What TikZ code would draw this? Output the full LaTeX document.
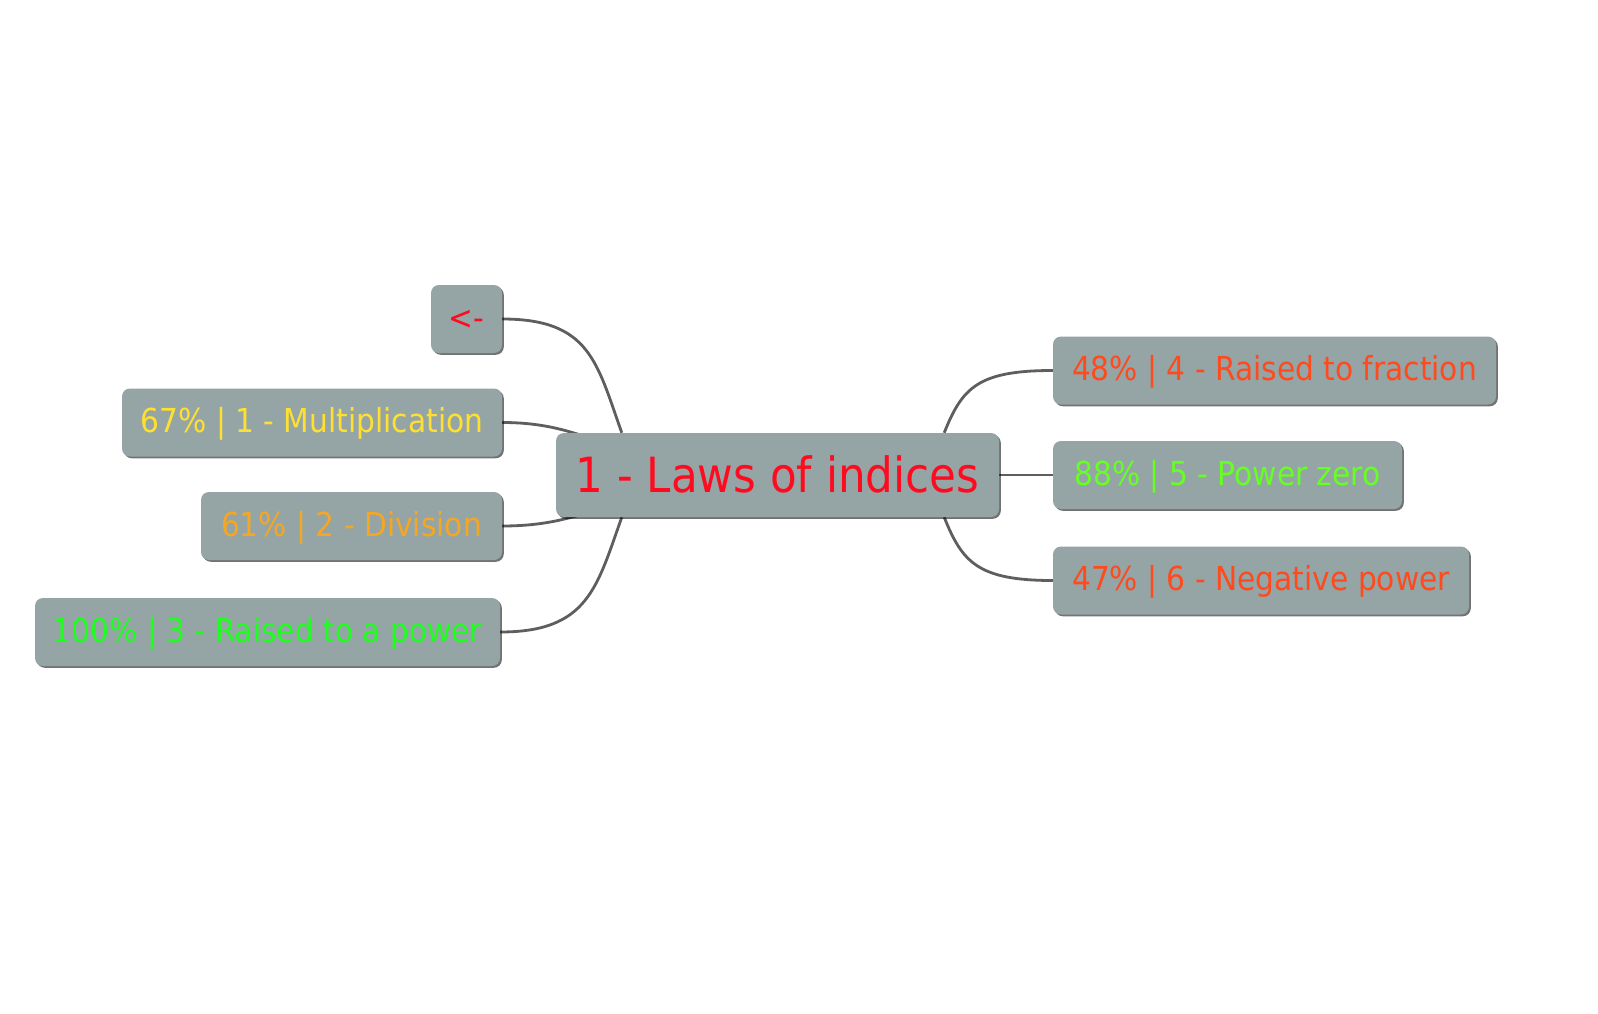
\documentclass[tikz,border=0pt]{standalone}
\usepackage{fontspec}
\newfontfamily\tah{DejaVu Sans Condensed}
\usetikzlibrary{shadows,calc}
\pgfdeclarelayer{bottom}
\pgfdeclarelayer{background}
\pgfsetlayers{bottom,background,main}
\definecolor{boxgray}{HTML}{95A5A6}
\definecolor{linegray}{HTML}{5E5E5E}
\definecolor{cred}{HTML}{FF0A1E}
\definecolor{cyellow}{HTML}{FFE030}
\definecolor{corange}{HTML}{F5A623}
\definecolor{cgreen}{HTML}{1EFF1E}
\definecolor{cred2}{HTML}{FF4A1E}
\definecolor{cgreen2}{HTML}{66FF22}
\tikzset{
  mmbox/.style={fill=boxgray, rounded corners=8pt, inner sep=0pt,
    minimum height=68pt, font=\tah\fontsize{33}{38}\selectfont,
    text height=27pt, text depth=7pt,
    drop shadow={shadow xshift=1.8pt, shadow yshift=-1.8pt, fill=black, opacity=0.55}},
  rootbox/.style={mmbox, minimum height=84pt, font=\tah\fontsize{48.5}{56}\selectfont,
    text height=40pt, text depth=6pt},
  link/.style={draw=linegray, line width=2.8pt}
}
\begin{document}
\begin{tikzpicture}[x=1pt,y=-1pt]
\begin{pgfonlayer}{bottom}
\fill[white] (0,0) rectangle (1598,1014);
\end{pgfonlayer}
\useasboundingbox (0,0) rectangle (1598,1014);
\node[rootbox, minimum width=443pt, text=cred] (c) at (777.5,475) {1 - Laws of indices};
\node[mmbox, minimum width=71pt, text=cred] (lt) at (466.5,319) {<-};
\node[mmbox, minimum width=380pt, text=cyellow] (mu) at (312,422.5) {67\% | 1 - Multiplication};
\node[mmbox, minimum width=301pt, text=corange] (dv) at (351.5,526) {61\% | 2 - Division};
\node[mmbox, minimum width=465pt, text=cgreen] (rp) at (267.5,632) {100\% | 3 - Raised to a power};
\node[mmbox, minimum width=443pt, text=cred2] (rf) at (1274.5,370.5) {48\% | 4 - Raised to fraction};
\node[mmbox, minimum width=349pt, text=cgreen2] (pz) at (1227.5,475) {88\% | 5 - Power zero};
\node[mmbox, minimum width=416pt, text=cred2] (np) at (1261,580.5) {47\% | 6 - Negative power};
\coordinate (ltend) at ($(c.north west)+(66,0)$);
\coordinate (rpend) at ($(c.south west)+(66,0)$);
\coordinate (muend) at ($(c.north west)+(45,8)$);
\coordinate (dvend) at ($(c.south west)+(45,-8)$);
\coordinate (rfend) at ($(c.north east)+(-55,0)$);
\coordinate (npend) at ($(c.south east)+(-55,0)$);
\begin{pgfonlayer}{background}
\draw[link] (lt.east) .. controls +(88,0) and +(-25,-70) .. (ltend);
\draw[link] (rp.east) .. controls +(88,0) and +(-25,70) .. (rpend);
\draw[link] (mu.east) .. controls +(50,0) and +(-25,-6) .. (muend);
\draw[link] (dv.east) .. controls +(50,0) and +(-25,6) .. (dvend);
\draw[link] (rf.west) .. controls +(-75,0) and +(18,-45) .. (rfend);
\draw[link] (np.west) .. controls +(-75,0) and +(18,45) .. (npend);
\draw[link] (c.east) -- (pz.west);
\end{pgfonlayer}
\end{tikzpicture}
\end{document}
